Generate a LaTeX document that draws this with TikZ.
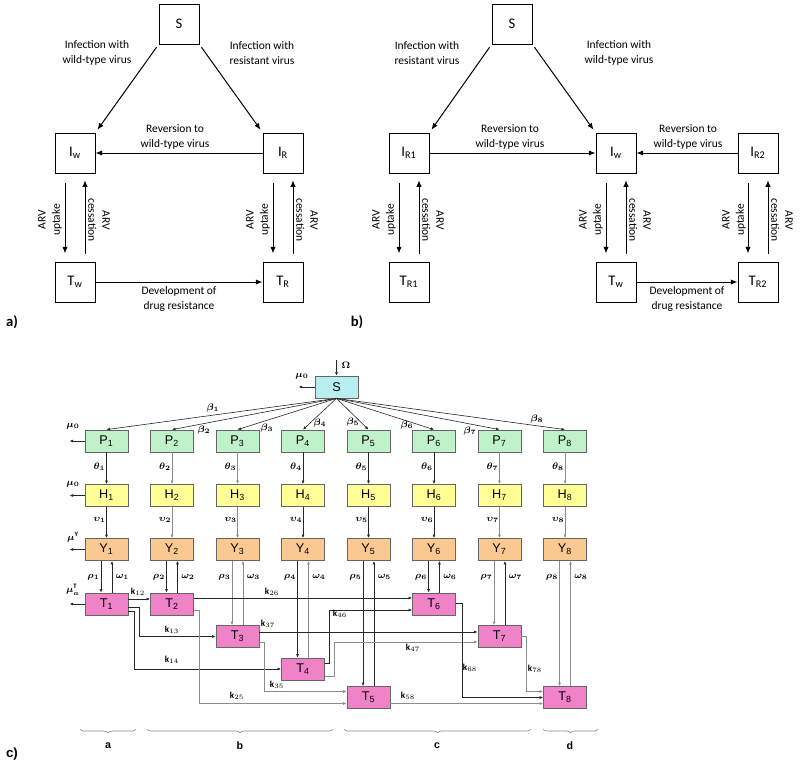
\documentclass[tikz,border=0pt]{standalone}
\usepackage{fontspec}
\setmainfont{Carlito}
\newfontfamily\arialf{Liberation Sans}
\usetikzlibrary{arrows.meta,decorations.pathreplacing}
\definecolor{cyanb}{RGB}{185,238,240}
\definecolor{greenb}{RGB}{192,242,202}
\definecolor{yellowb}{RGB}{255,255,150}
\definecolor{orangeb}{RGB}{250,200,145}
\definecolor{pinkb}{RGB}{240,130,200}
\begin{document}
\begin{tikzpicture}[x=0.75pt,y=-0.75pt,
 bx/.style={draw,line width=0.75pt,minimum width=30pt,minimum height=30pt,inner sep=0pt,font=\fontsize{11}{12}\selectfont},
 lbl/.style={font=\fontsize{8.6}{10.6}\selectfont,align=center,inner sep=0pt},
 ar/.style={line width=0.75pt,-{Latex[length=5pt,width=4pt]}},
 cb/.style={draw=black!60,line width=0.6pt,minimum width=32.25pt,minimum height=16.5pt,inner sep=0pt,font=\arialf\fontsize{9.5}{10}\selectfont},
 cS/.style={cb,fill=cyanb},
 cP/.style={cb,fill=greenb},
 cH/.style={cb,fill=yellowb},
 cY/.style={cb,fill=orangeb},
 cT/.style={cb,fill=pinkb},
 ca/.style={draw=black!85,line width=0.45pt,-{Latex[length=2.6pt,width=2.2pt]}},
 cl/.style={ca,draw=black!45},
 gl/.style={font=\fontsize{7}{7.5}\selectfont\boldmath,inner sep=0pt},
 kl/.style={font=\fontsize{6.8}{7}\selectfont,inner sep=0pt},
 brc/.style={draw=black!45,line width=0.5pt,decorate,decoration={brace,mirror,amplitude=3pt}},
 panel/.style={font=\fontsize{11}{12}\selectfont\bfseries,inner sep=0pt}
]
\useasboundingbox (0,0) rectangle (800,765);

% ---------------- a) ----------------
\node[bx] (aS) at (179,24) {S};
\node[bx] (aIw) at (75,153) {I\textsubscript{w}};
\node[bx] (aIR) at (283,153) {I\textsubscript{R}};
\node[bx] (aTw) at (75,282) {T\textsubscript{w}};
\node[bx] (aTR) at (283,282) {T\textsubscript{R}};
\draw[ar,shorten <=2.5pt,shorten >=2.5pt] (aS.south west) -- (aIw.north east);
\draw[ar,shorten <=2.5pt,shorten >=2.5pt] (aS.south east) -- (aIR.north west);
\draw[ar] (aIR.west) -- (aIw.east);
\draw[ar] (aTw.east) -- (aTR.west);
\draw[ar,shorten <=7pt,shorten >=6pt] ([xshift=-7.5pt]aIw.south) -- ([xshift=-7.5pt]aTw.north);
\draw[ar,shorten <=6pt,shorten >=5pt] ([xshift=7.5pt]aTw.north) -- ([xshift=7.5pt]aIw.south);
\draw[ar,shorten <=7pt,shorten >=6pt] ([xshift=-7.5pt]aIR.south) -- ([xshift=-7.5pt]aTR.north);
\draw[ar,shorten <=6pt,shorten >=5pt] ([xshift=7.5pt]aTR.north) -- ([xshift=7.5pt]aIR.south);
\node[lbl] (aL1) at (97,53) {Infection with\\wild-type virus};
\node[lbl] (aL2) at (262,53) {Infection with\\resistant virus};
\node[lbl] (aL3) at (175,137) {Reversion to\\wild-type virus};
\node[lbl] (aL4) at (179,299) {Development of\\drug resistance};
\node[lbl,rotate=90] (aL5) at (50,220) {ARV\\uptake};
\node[lbl,rotate=-90] (aL6) at (99,220) {ARV\\cessation};
\node[lbl,rotate=90] (aL7) at (258,220) {ARV\\uptake};
\node[lbl,rotate=-90] (aL8) at (307,220) {ARV\\cessation};
\node[panel] (pa) at (12,322) {a)};

% ---------------- b) ----------------
\node[bx] (bS) at (512,24) {S};
\node[bx] (bIR1) at (409,153) {I\textsubscript{R1}};
\node[bx] (bIw) at (616,153) {I\textsubscript{w}};
\node[bx] (bIR2) at (758,153) {I\textsubscript{R2}};
\node[bx] (bTR1) at (409,282) {T\textsubscript{R1}};
\node[bx] (bTw) at (616,282) {T\textsubscript{w}};
\node[bx] (bTR2) at (758,282) {T\textsubscript{R2}};
\draw[ar,shorten <=2.5pt,shorten >=2.5pt] (bS.south west) -- (bIR1.north east);
\draw[ar,shorten <=2.5pt,shorten >=2.5pt] (bS.south east) -- (bIw.north west);
\draw[ar] (bIR1.east) -- (bIw.west);
\draw[ar] (bIR2.west) -- (bIw.east);
\draw[ar] (bTw.east) -- (bTR2.west);
\foreach \u/\l in {bIR1/bTR1,bIw/bTw,bIR2/bTR2}{
  \draw[ar,shorten <=7pt,shorten >=6pt] ([xshift=-7.5pt]\u.south) -- ([xshift=-7.5pt]\l.north);
  \draw[ar,shorten <=6pt,shorten >=5pt] ([xshift=7.5pt]\l.north) -- ([xshift=7.5pt]\u.south);
}
\node[lbl] (bL1) at (427,53) {Infection with\\resistant virus};
\node[lbl] (bL2) at (619,53) {Infection with\\wild-type virus};
\node[lbl] (bL3) at (510,137) {Reversion to\\wild-type virus};
\node[lbl] (bL4) at (688,137) {Reversion to\\wild-type virus};
\node[lbl] (bL5) at (687,299) {Development of\\drug resistance};
\node[lbl,rotate=90] (bL6) at (384,220) {ARV\\uptake};
\node[lbl,rotate=-90] (bL7) at (433,220) {ARV\\cessation};
\node[lbl,rotate=90] (bL8) at (591,220) {ARV\\uptake};
\node[lbl,rotate=-90] (bL9) at (640,220) {ARV\\cessation};
\node[lbl,rotate=90] (bL10) at (734,220) {ARV\\uptake};
\node[lbl,rotate=-90] (bL11) at (782,220) {ARV\\cessation};
\node[panel] (pb) at (357,322) {b)};

% ---------------- c) ----------------
\node[cS] (cS) at (336.5,387) {S};
\coordinate (omg) at (336.5,360);
\draw[ca] (omg) -- (cS.north);
\node[gl] (omgl) at (346,365) {$\Omega$};
\draw[ca] (cS.west) -- ++(-16,0);
\node[gl] (mus) at (302,376) {$\mu_0$};

\node[cT] (T1) at (106.5,604) {T\textsubscript{1}};
\node[cT] (T2) at (172,604) {T\textsubscript{2}};
\node[cT] (T3) at (237.5,636.5) {T\textsubscript{3}};
\node[cT] (T4) at (303,669) {T\textsubscript{4}};
\node[cT] (T5) at (368.5,697.5) {T\textsubscript{5}};
\node[cT] (T6) at (434,604) {T\textsubscript{6}};
\node[cT] (T7) at (499.5,636.5) {T\textsubscript{7}};
\node[cT] (T8) at (565,697.5) {T\textsubscript{8}};

\foreach \i in {1,...,8}{
  \pgfmathsetmacro\cx{106.5+65.5*(\i-1)}
  \node[cP] (P\i) at (\cx,441) {P\textsubscript{\i}};
  \node[cH] (H\i) at (\cx,495.5) {H\textsubscript{\i}};
  \node[cY] (Y\i) at (\cx,549.5) {Y\textsubscript{\i}};
  \draw[ca] (cS.south) -- (P\i.north);
  \node[gl] (th\i) at (\cx-7,467) {$\theta_{\i}$};
  \node[gl] (up\i) at (\cx-7,520) {$\upsilon_{\i}$};
  \node[gl] (rh\i) at (\cx-13,577) {$\rho_{\i}$};
  \node[gl] (om\i) at (\cx+16,577) {$\omega_{\i}$};
}
\foreach \i/\s in {1/ca,2/cl,3/cl,4/ca,5/ca,6/ca,7/cl,8/cl}{
  \draw[\s] (P\i) -- (H\i);
  \draw[\s] (H\i) -- (Y\i);
}
\foreach \i/\s/\t in {1/ca/ca,2/ca/ca,3/cl/cl,4/ca/cl,5/ca/ca,6/ca/ca,7/cl/ca,8/cl/cl}{
  \draw[\s] ([xshift=-4.1pt]Y\i.south) -- ([xshift=-4.1pt]T\i.north);
  \draw[\t] ([xshift=4.1pt]T\i.north) -- ([xshift=4.1pt]Y\i.south);
}

\node[gl] (b1) at (213,408) {$\beta_1$};
\node[gl] (b2) at (204,430) {$\beta_2$};
\node[gl] (b3) at (267,428) {$\beta_3$};
\node[gl] (b4) at (320,423) {$\beta_4$};
\node[gl] (b5) at (353,422) {$\beta_5$};
\node[gl] (b6) at (407,425) {$\beta_6$};
\node[gl] (b7) at (470,431) {$\beta_7$};
\node[gl] (b8) at (537,419) {$\beta_8$};

\draw[ca] (P1.west) -- ++(-15,0);
\draw[ca] (H1.west) -- ++(-15,0);
\draw[ca] (Y1.west) -- ++(-15,0);
\draw[ca] (T1.west) -- ++(-15,0);
\node[gl] (m1) at (73,426) {$\mu_0$};
\node[gl] (m2) at (73,484) {$\mu_0$};
\node[gl] (m3) at (73,537) {$\mu^{\mathrm{Y}}$};
\node[gl] (m4) at (73,590) {$\mu_a^{\mathrm{T}}$};

% T transfers
\draw[ca] ([yshift=3.75pt]T1.east) -- ([yshift=3.75pt]T2.west);
\draw[ca] ([yshift=-2.25pt]T1.east) -- ++(11,0) |- (T3.west);
\draw[ca] ([yshift=-5.25pt]T1.east) -- ++(6,0) |- (T4.west);
\draw[ca] ([yshift=4.5pt]T2.east) -- ([yshift=4.5pt]T6.west);
\draw[cl] ([yshift=-4.5pt]T2.east) -- ++(5,0) |- ([yshift=-4.5pt]T5.west);
\draw[ca] ([yshift=3.4pt]T3.east) -- ([yshift=3.4pt]T7.west);
\draw[cl] ([yshift=-4.1pt]T3.east) -- ++(5,0) |- ([yshift=4.5pt]T5.west);
\draw[ca] ([yshift=4.5pt]T4.east) -- ++(4,0) |- ([yshift=-4.5pt]T6.west);
\draw[cl] ([yshift=-5.25pt]T4.east) -- ++(9,0) |- ([yshift=-4.1pt]T7.west);
\draw[cl] ([yshift=-4.5pt]T5.east) -- ([yshift=-4.5pt]T8.west);
\draw[ca] ([yshift=0.75pt]T6.east) -- ++(6,0) |- (T8.west);
\draw[cl] (T7.east) -- ++(5,0) |- ([yshift=4.5pt]T8.west);

\node[kl] (k12) at (138,592) {$\mathbf{k}_{12}$};
\node[kl] (k13) at (172,630) {$\mathbf{k}_{13}$};
\node[kl] (k14) at (172,660) {$\mathbf{k}_{14}$};
\node[kl] (k26) at (272,592) {$\mathbf{k}_{26}$};
\node[kl] (k25) at (237,696) {$\mathbf{k}_{25}$};
\node[kl] (k35) at (277,685) {$\mathbf{k}_{35}$};
\node[kl] (k37) at (268,624) {$\mathbf{k}_{37}$};
\node[kl] (k46) at (340,614) {$\mathbf{k}_{46}$};
\node[kl] (k47) at (413,648) {$\mathbf{k}_{47}$};
\node[kl] (k58) at (408,696) {$\mathbf{k}_{58}$};
\node[kl] (k68) at (470,668) {$\mathbf{k}_{68}$};
\node[kl] (k78) at (535,669) {$\mathbf{k}_{78}$};

% braces
\draw[brc] (80,729) -- (136,729);
\draw[brc] (147,729) -- (333,729);
\draw[brc] (344,729) -- (531,729);
\draw[brc] (543,729) -- (598,729);
\node[font=\arialf\fontsize{8}{9}\selectfont\bfseries] (ga) at (108,746) {a};
\node[font=\arialf\fontsize{8}{9}\selectfont\bfseries] (gb) at (240,746) {b};
\node[font=\arialf\fontsize{8}{9}\selectfont\bfseries] (gc) at (437,746) {c};
\node[font=\arialf\fontsize{8}{9}\selectfont\bfseries] (gd) at (570,746) {d};
\node[font=\arialf\fontsize{10}{11}\selectfont\bfseries] (pc) at (12,754) {c)};
\end{tikzpicture}
\end{document}
